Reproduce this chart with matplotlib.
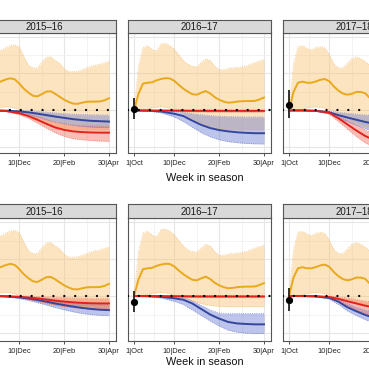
import matplotlib.pyplot as plt
from matplotlib.ticker import FixedLocator

plt.rcParams['font.family'] = ['Liberation Sans', 'DejaVu Sans']

# seasons and week axis
seasons = ['2015–16', '2016–17', '2017–18']
weeks = list(range(1, 31))
mweeks = [1, 4, 7, 10, 12, 14, 16, 18, 20, 22, 24, 26, 28, 30]
tick_weeks = [1, 10, 20, 30]
tick_labels = ['1|Oct', '10|Dec', '20|Feb', '30|Apr']

# orange series (same in both rows), one list per season
orange_mid = [
    [0.0, 0.9, 1.4, 1.5, 1.5, 1.58, 1.68, 1.74, 1.68, 1.45, 1.18, 0.97, 0.8, 0.76, 0.88,
     1.02, 1.04, 0.9, 0.74, 0.58, 0.46, 0.37, 0.36, 0.42, 0.47, 0.48, 0.48, 0.49, 0.55, 0.66],
    [0.0, 0.9, 1.45, 1.5, 1.52, 1.63, 1.7, 1.75, 1.73, 1.6, 1.38, 1.18, 1.02, 0.88, 0.85,
     0.96, 1.05, 0.92, 0.72, 0.58, 0.48, 0.42, 0.44, 0.48, 0.5, 0.51, 0.51, 0.52, 0.6, 0.7],
    [0.0, 1.0, 1.5, 1.56, 1.5, 1.5, 1.57, 1.66, 1.7, 1.58, 1.3, 1.08, 0.92, 0.85, 0.9,
     1.0, 1.0, 0.93, 0.68, 0.55, 0.5, 0.5, 0.55, 0.6, 0.6, 0.6, 0.6, 0.62, 0.65, 0.7],
]
orange_hi = [
    [0.0, 2.2, 3.3, 3.4, 3.3, 3.27, 3.4, 3.52, 3.55, 3.42, 2.9, 2.45, 2.3, 2.3, 2.6,
     2.88, 2.9, 2.7, 2.55, 2.25, 2.1, 2.1, 2.12, 2.2, 2.3, 2.4, 2.45, 2.5, 2.58, 2.65],
    [0.0, 2.4, 3.4, 3.5, 3.3, 3.2, 3.6, 3.63, 3.5, 3.3, 3.0, 2.7, 2.5, 2.4, 2.38,
     2.6, 2.8, 2.7, 2.4, 2.2, 2.2, 2.27, 2.3, 2.33, 2.35, 2.4, 2.5, 2.6, 2.68, 2.73],
    [0.0, 2.5, 3.45, 3.5, 3.35, 3.27, 3.4, 3.45, 3.38, 3.0, 2.5, 2.3, 2.3, 2.55, 2.8,
     2.9, 2.8, 2.64, 2.45, 2.3, 2.2, 2.2, 2.25, 2.3, 2.35, 2.4, 2.45, 2.5, 2.55, 2.6],
]
orange_lo_top = [0, 0, 0.02, 0.08, 0.14, 0.18, 0.2, 0.18, 0.12, 0.05, -0.05, -0.18, -0.32, -0.45, -0.58,
                 -0.7, -0.8, -0.88, -0.94, -0.98, -1.0, -1.02, -1.03, -1.04, -1.05, -1.05, -1.05, -1.05, -1.05, -1.05]
orange_lo_bot = [0, 0, 0.02, 0.08, 0.14, 0.18, 0.2, 0.18, 0.12, 0.05, -0.03, -0.1, -0.18, -0.26, -0.33,
                 -0.4, -0.46, -0.5, -0.53, -0.55, -0.56, -0.57, -0.57, -0.57, -0.57, -0.57, -0.57, -0.57, -0.57, -0.57]

# top row, red and blue
red_mid_top = [
    [0, 0, -0.03, -0.15, -0.3, -0.5, -0.72, -0.92, -1.05, -1.13, -1.17, -1.19, -1.2, -1.2],
    [0, 0, 0, -0.01, -0.01, -0.02, -0.02, -0.02, -0.02, -0.02, -0.02, -0.02, -0.02, -0.02],
    [0, 0, -0.02, -0.12, -0.42, -0.75, -1.08, -1.38, -1.6, -1.8, -1.95, -2.05, -2.1, -2.12],
]
red_lo_top = [
    [0, 0, -0.05, -0.22, -0.42, -0.68, -0.95, -1.2, -1.4, -1.52, -1.58, -1.62, -1.65, -1.67],
    [0, -0.02, -0.03, -0.05, -0.06, -0.07, -0.07, -0.08, -0.08, -0.08, -0.08, -0.08, -0.08, -0.08],
    [0, 0, -0.04, -0.2, -0.6, -1.0, -1.4, -1.75, -2.0, -2.2, -2.35, -2.45, -2.5, -2.52],
]
red_hi_top = [
    [0, 0, 0, -0.08, -0.18, -0.32, -0.48, -0.62, -0.72, -0.78, -0.8, -0.82, -0.83, -0.84],
    [0, 0, 0.01, 0.02, 0.03, 0.03, 0.03, 0.03, 0.03, 0.03, 0.03, 0.03, 0.03, 0.03],
    [0, 0, 0, -0.06, -0.28, -0.52, -0.78, -1.05, -1.25, -1.4, -1.5, -1.57, -1.6, -1.62],
]
blue_mid_top = [
    [0, 0, -0.01, -0.05, -0.1, -0.17, -0.25, -0.33, -0.4, -0.47, -0.52, -0.56, -0.58, -0.6],
    [0, -0.01, -0.05, -0.18, -0.3, -0.55, -0.78, -0.95, -1.06, -1.13, -1.18, -1.21, -1.23, -1.23],
    [0, 0, -0.02, -0.1, -0.25, -0.38, -0.5, -0.62, -0.72, -0.8, -0.85, -0.88, -0.9, -0.9],
]
blue_lo_top = [
    [0, 0, -0.03, -0.12, -0.22, -0.35, -0.5, -0.62, -0.72, -0.8, -0.86, -0.9, -0.92, -0.93],
    [0, -0.03, -0.12, -0.35, -0.6, -0.9, -1.2, -1.42, -1.58, -1.68, -1.74, -1.78, -1.8, -1.81],
    [0, 0, -0.04, -0.18, -0.4, -0.6, -0.8, -0.98, -1.12, -1.22, -1.28, -1.32, -1.34, -1.35],
]
blue_hi_top = [
    [0, 0, 0, 0, -0.02, -0.05, -0.09, -0.13, -0.17, -0.2, -0.22, -0.23, -0.24, -0.24],
    [0, 0, 0, -0.05, -0.1, -0.17, -0.23, -0.28, -0.31, -0.33, -0.34, -0.35, -0.35, -0.35],
    [0, 0, 0, -0.04, -0.1, -0.15, -0.2, -0.24, -0.28, -0.32, -0.34, -0.35, -0.36, -0.36],
]

# bottom row, red and blue
red_mid_bot = [
    [0, 0, -0.01, -0.04, -0.08, -0.13, -0.19, -0.25, -0.3, -0.34, -0.37, -0.39, -0.4, -0.4],
    [0, 0, 0, -0.01, -0.01, -0.02, -0.02, -0.02, -0.02, -0.02, -0.02, -0.02, -0.02, -0.02],
    [0, 0, -0.01, -0.05, -0.15, -0.28, -0.4, -0.52, -0.62, -0.7, -0.76, -0.8, -0.82, -0.83],
]
red_lo_bot = [
    [0, 0, -0.03, -0.1, -0.18, -0.28, -0.38, -0.48, -0.56, -0.62, -0.66, -0.68, -0.69, -0.7],
    [0, -0.02, -0.03, -0.05, -0.06, -0.07, -0.07, -0.08, -0.08, -0.08, -0.08, -0.08, -0.08, -0.08],
    [0, 0, -0.03, -0.12, -0.3, -0.52, -0.75, -0.95, -1.1, -1.2, -1.27, -1.3, -1.32, -1.33],
]
red_hi_bot = [
    [0, 0, 0, 0, 0, -0.02, -0.04, -0.06, -0.08, -0.1, -0.11, -0.12, -0.13, -0.13],
    [0, 0, 0.01, 0.02, 0.03, 0.03, 0.03, 0.03, 0.03, 0.03, 0.03, 0.03, 0.03, 0.03],
    [0, 0, 0, -0.01, -0.05, -0.1, -0.18, -0.27, -0.35, -0.4, -0.44, -0.46, -0.47, -0.48],
]
blue_mid_bot = [
    [0, 0, -0.02, -0.07, -0.13, -0.21, -0.3, -0.4, -0.49, -0.57, -0.64, -0.7, -0.74, -0.76],
    [0, -0.01, -0.04, -0.12, -0.2, -0.4, -0.7, -1.0, -1.22, -1.4, -1.48, -1.51, -1.53, -1.53],
    [0, 0, -0.02, -0.1, -0.3, -0.6, -0.82, -1.02, -1.18, -1.28, -1.36, -1.4, -1.42, -1.43],
]
blue_lo_bot = [
    [0, 0, -0.04, -0.13, -0.23, -0.35, -0.48, -0.62, -0.74, -0.85, -0.94, -1.0, -1.04, -1.06],
    [0, -0.03, -0.1, -0.28, -0.45, -0.75, -1.05, -1.35, -1.62, -1.84, -1.95, -2.0, -2.02, -2.02],
    [0, 0, -0.04, -0.16, -0.45, -0.8, -1.05, -1.28, -1.45, -1.58, -1.66, -1.7, -1.72, -1.73],
]
blue_hi_bot = [
    [0, 0, 0, -0.02, -0.05, -0.09, -0.14, -0.2, -0.26, -0.32, -0.37, -0.41, -0.44, -0.46],
    [0, 0, 0, -0.03, -0.08, -0.25, -0.5, -0.75, -0.92, -0.94, -0.94, -0.94, -0.94, -0.94],
    [0, 0, 0, -0.05, -0.18, -0.4, -0.6, -0.76, -0.88, -0.97, -1.02, -1.05, -1.07, -1.08],
]

# start-of-season estimate (value, upper, lower); None = not shown
point_top = [None, (0.06, 0.66, -0.48), (0.3, 1.1, -0.42)]
point_bot = [None, (-0.31, 0.27, -0.85), (-0.22, 0.41, -0.81)]

ORANGE = '#E8A91B'
RED = '#E3211C'
BLUE = '#34469E'

W = H = 369.0
fig = plt.figure(figsize=(3.69, 3.69), dpi=100)

panel_left = [-27.5, 127.5, 282.5]
panel_w = 143.0
rows = [
    dict(top=33, bottom=153, strip=20, ylim=(-2.30, 4.19), olo=orange_lo_top,
         rm=red_mid_top, rl=red_lo_top, rh=red_hi_top,
         bm=blue_mid_top, bl=blue_lo_top, bh=blue_hi_top, pt=point_top, xlab=178),
    dict(top=218, bottom=341, strip=204, ylim=(-2.43, 4.22), olo=orange_lo_bot,
         rm=red_mid_bot, rl=red_lo_bot, rh=red_hi_bot,
         bm=blue_mid_bot, bl=blue_lo_bot, bh=blue_hi_bot, pt=point_bot, xlab=362),
]


def band(ax, x, lo, hi, fc, ec, alpha):
    ax.fill_between(x, lo, hi, color=fc, alpha=alpha, lw=0, zorder=2)
    ax.plot(x, lo, color=ec, lw=0.6, ls=':', zorder=3)
    ax.plot(x, hi, color=ec, lw=0.6, ls=':', zorder=3)


for r in rows:
    for i, season in enumerate(seasons):
        x0 = panel_left[i]
        ax = fig.add_axes([x0 / W, 1 - r['bottom'] / H, panel_w / W, (r['bottom'] - r['top']) / H])
        ax.set_xlim(1 - 1.45, 30 + 1.45)
        ax.set_ylim(*r['ylim'])

        # grid
        ax.xaxis.set_major_locator(FixedLocator(tick_weeks))
        ax.xaxis.set_minor_locator(FixedLocator([5.5, 15, 25]))
        ax.yaxis.set_major_locator(FixedLocator([-2, 0, 2, 4]))
        ax.yaxis.set_minor_locator(FixedLocator([-1, 1, 3]))
        ax.grid(which='major', color='#E6E6E6', lw=0.8, zorder=0)
        ax.grid(which='minor', color='#EFEFEF', lw=0.5, zorder=0)
        ax.set_axisbelow(True)
        ax.set_xticklabels(tick_labels)
        ax.tick_params(axis='x', which='major', length=2.2, width=0.6, color='#333333',
                       labelsize=5.4, pad=2.5, labelcolor='#222222')
        ax.tick_params(axis='x', which='minor', length=0)
        ax.tick_params(axis='y', which='both', length=0, labelleft=False)
        for s in ax.spines.values():
            s.set_color('#555555')
            s.set_linewidth(0.8)

        band(ax, weeks, r['olo'], orange_hi[i], '#F9C06A', '#F2BD72', 0.42)
        band(ax, mweeks, r['bl'][i], r['bh'][i], '#5A6FD0', '#7886D2', 0.4)
        band(ax, mweeks, r['rl'][i], r['rh'][i], '#F0604A', '#EE7A6A', 0.4)

        ax.plot(mweeks, r['bm'][i], color=BLUE, lw=1.4, zorder=4)
        ax.plot(mweeks, r['rm'][i], color=RED, lw=1.4, zorder=4)
        ax.plot(weeks, orange_mid[i], color=ORANGE, lw=1.4, zorder=4)
        ax.axhline(0, color='black', lw=1.7, dashes=(0.01, 4.6),
                   dash_capstyle='round', zorder=5)

        p = r['pt'][i]
        if p is not None:
            ax.plot([1, 1], [p[2], p[1]], color='#222222', lw=1.3, zorder=6,
                    solid_capstyle='butt')
            ax.plot(1, p[0], 'o', color='black', ms=4.2, zorder=7)

        # strip
        sax = fig.add_axes([x0 / W, 1 - r['top'] / H, panel_w / W, (r['top'] - r['strip']) / H])
        sax.set_facecolor('#D9D9D9')
        sax.set_xticks([])
        sax.set_yticks([])
        for s in sax.spines.values():
            s.set_color('#555555')
            s.set_linewidth(0.8)
        sax.text(0.5, 0.45, season, ha='center', va='center', fontsize=6.9,
                 color='#1A1A1A', transform=sax.transAxes)

    fig.text(204.5 / W, 1 - r['xlab'] / H, 'Week in season', ha='center', va='center',
             fontsize=7.8, color='#111111')

fig.savefig('out.png', dpi=100)
